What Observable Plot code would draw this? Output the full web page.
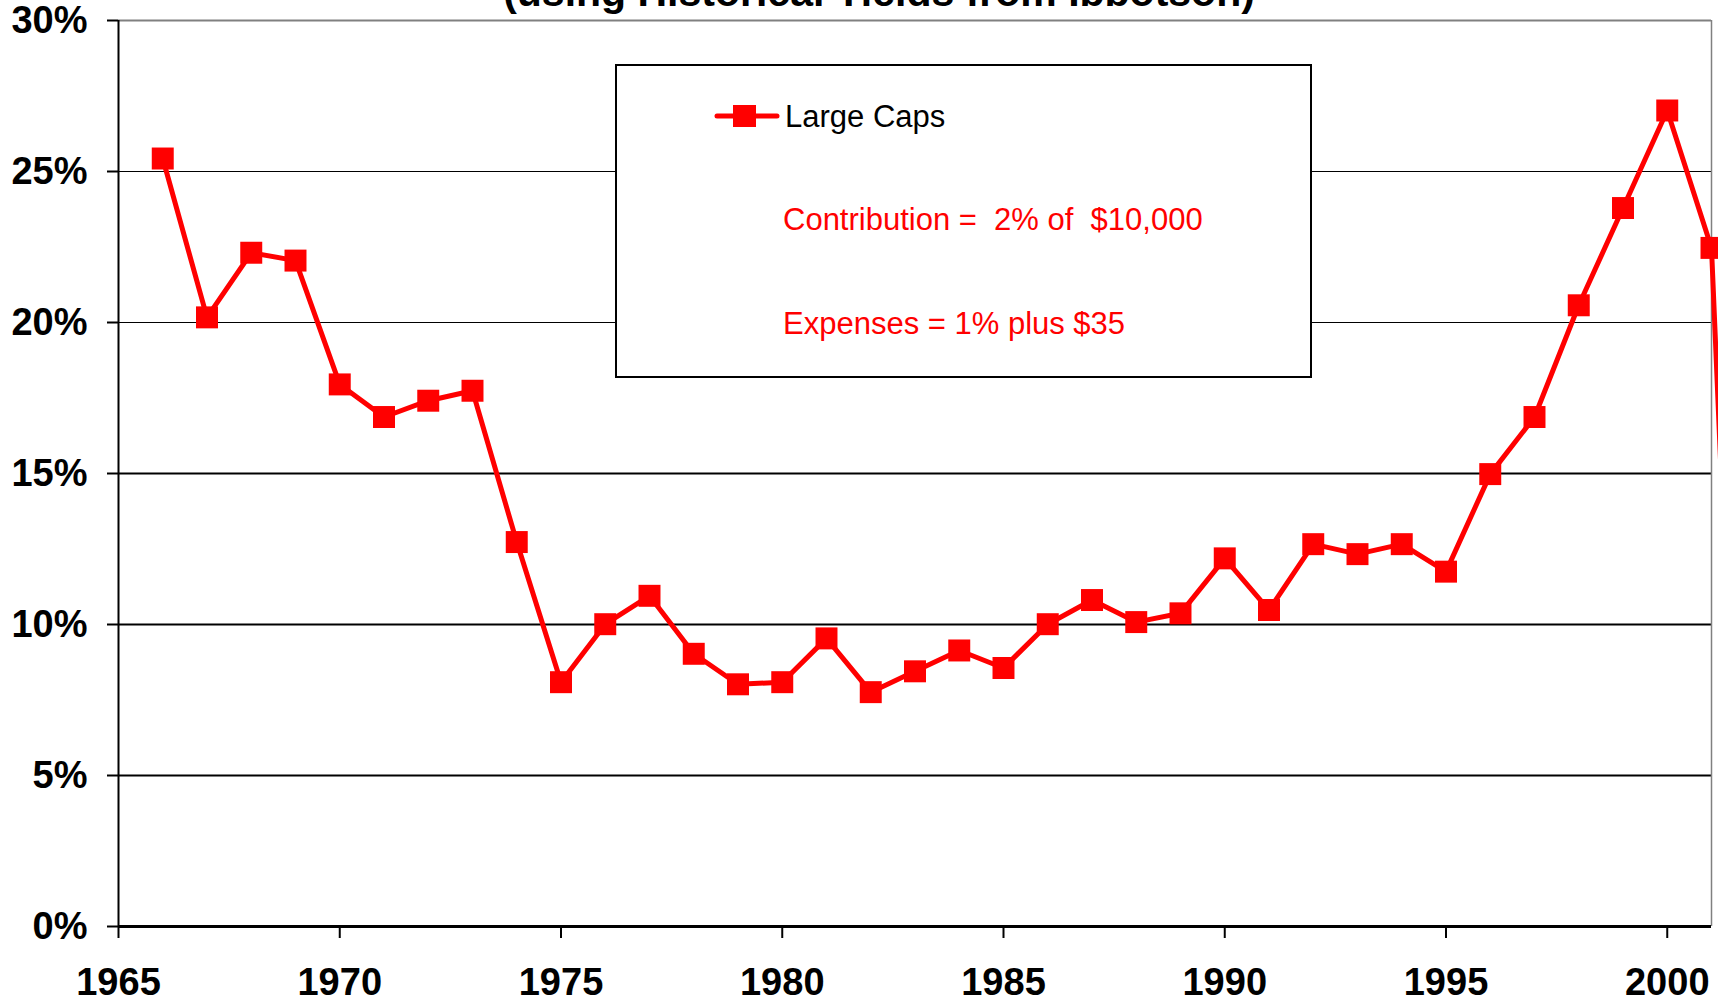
<!DOCTYPE html>
<html><head><meta charset="utf-8">
<script src="https://cdn.jsdelivr.net/npm/d3@7"></script>
<script src="https://cdn.jsdelivr.net/npm/@observablehq/plot@0.6"></script>
<style>
html,body{margin:0;padding:0;background:#fff;overflow:hidden;}
#wrap{position:relative;width:1718px;height:1003px;overflow:hidden;background:#fff;}
#wrap svg{position:absolute;left:0;top:0;}
#title{position:absolute;left:0;width:1758px;top:-28px;text-align:center;font:bold 41px "Liberation Sans",Arial,sans-serif;line-height:41px;white-space:nowrap;color:#000;}
#legend{position:absolute;left:615px;top:64px;width:697px;height:314px;box-sizing:border-box;border:2px solid #000;background:#fff;font-family:"Liberation Sans",Arial,sans-serif;font-size:31px;line-height:31px;}
#legend .item{position:absolute;white-space:pre;}
#legend svg{position:absolute;}
</style>
</head><body>
<div id="wrap"></div>
<script>
const years = [1966,1967,1968,1969,1970,1971,1972,1973,1974,1975,1976,1977,1978,1979,1980,1981,1982,1983,1984,1985,1986,1987,1988,1989,1990,1991,1992,1993,1994,1995,1996,1997,1998,1999,2000,2001,2002];
const largeCaps = [25.43,20.17,22.31,22.05,17.95,16.87,17.41,17.74,12.73,8.09,10.01,10.95,9.03,8.02,8.09,9.54,7.76,8.45,9.14,8.56,10.01,10.81,10.08,10.37,12.19,10.48,12.66,12.33,12.66,11.75,14.98,16.87,20.57,23.79,27.02,22.47,-12];
const xTicks = [1965,1970,1975,1980,1985,1990,1995,2000];
const yTicks = [0,5,10,15,20,25,30];
const gridThin = [20,25];
const gridThick = [5,10,15];
const seriesName = "Large Caps";
const notes = ["Contribution =  2% of  $10,000", "Expenses = 1% plus $35"];
const titleText = "(using Historical Yields from Ibbotson)";

const data = years.map((y, i) => ({year: y, value: largeCaps[i]}));
const font = '"Liberation Sans", Arial, sans-serif';

const chart = Plot.plot({
  width: 1718, height: 1003,
  marginLeft: 118, marginRight: 7, marginTop: 20, marginBottom: 77,
  style: {fontFamily: font, background: "white", color: "#000"},
  x: {domain: [1965, 2001]},
  y: {domain: [0, 30]},
  marks: [
    Plot.ruleY(gridThin, {stroke: "#000", strokeWidth: 1}),
    Plot.ruleY(gridThick, {stroke: "#000", strokeWidth: 2}),
    Plot.ruleY([30], {stroke: "#808080", strokeWidth: 2}),
    Plot.ruleX([2001], {stroke: "#808080", strokeWidth: 1.5}),
    Plot.ruleX([1965], {stroke: "#000", strokeWidth: 2}),
    Plot.ruleY([0], {stroke: "#000", strokeWidth: 3}),
    Plot.axisY({ticks: yTicks, tickSize: 11, tickPadding: 20, tickFormat: d => d + "%", fontSize: 38, fontWeight: "bold", stroke: "#000", strokeWidth: 2, strokeOpacity: 1, label: null}),
    Plot.axisX({ticks: xTicks, tickSize: 12, tickPadding: 30, tickFormat: d => String(d), fontSize: 38, fontWeight: "bold", stroke: "#000", strokeWidth: 2, strokeOpacity: 1, label: null}),
    Plot.line(data, {x: "year", y: "value", stroke: "#ff0000", strokeWidth: 5}),
    Plot.dot(data, {x: "year", y: "value", symbol: "square", r: 12.4, fill: "#ff0000", stroke: null})
  ]
});
const wrap = document.getElementById("wrap");
wrap.appendChild(chart);

const title = document.createElement("div");
title.id = "title";
title.textContent = titleText;
wrap.appendChild(title);

const legend = document.createElement("div");
legend.id = "legend";
legend.innerHTML = `
<svg style="left:97px;top:38px" width="66" height="24">
  <line x1="3" y1="12" x2="63" y2="12" stroke="#ff0000" stroke-width="5" stroke-linecap="round"/>
  <rect x="19" y="1" width="23" height="22" fill="#ff0000"/>
</svg>
<div class="item" style="left:168px;top:35px;color:#000">${seriesName}</div>
<div class="item" style="left:166px;top:138px;color:#ff0000">${notes[0]}</div>
<div class="item" style="left:166px;top:242px;color:#ff0000">${notes[1]}</div>`;
wrap.appendChild(legend);
</script>
</body></html>
